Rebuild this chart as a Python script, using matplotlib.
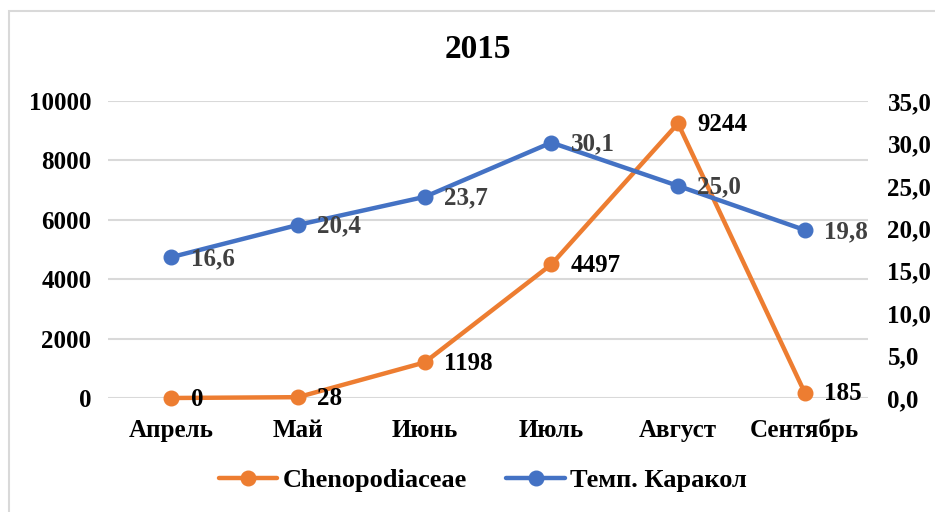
import matplotlib
matplotlib.use("Agg")
import matplotlib.pyplot as plt
from matplotlib.patches import Rectangle

months = ["Апрель", "Май", "Июнь", "Июль", "Август", "Сентябрь"]
cheno = [0, 28, 1198, 4497, 9244, 185]
temp = [16.6, 20.4, 23.7, 30.1, 25.0, 19.8]
left_ticks = [0, 2000, 4000, 6000, 8000, 10000]
right_ticks = [0, 5, 10, 15, 20, 25, 30, 35]

ORANGE = "#ED7D31"
BLUE = "#4472C4"
GRID = "#D9D9D9"
FONT = "Liberation Serif"

plt.rcParams["font.family"] = [FONT, "DejaVu Serif"]
plt.rcParams["font.weight"] = "bold"

W, H = 935, 512
fig = plt.figure(figsize=(W / 100, H / 100), dpi=100)
fig.patch.set_facecolor("white")

# chart border (top-left visible)
fig.patches.append(Rectangle((9 / W, -0.1), 1.2, 1 - 11 / H + 0.1, transform=fig.transFigure,
                             fill=False, edgecolor="#D9D9D9", linewidth=1.5))

ax = fig.add_axes([108 / W, 1 - 398 / H, (868 - 108) / W, (398 - 101) / H])
ax2 = ax.twinx()

x = list(range(len(months)))
ax.set_xlim(-0.5, len(months) - 0.5)
ax.set_ylim(0, 10000)
ax2.set_ylim(0, 35)

ax.set_yticks(left_ticks)
ax.set_yticklabels([str(v) for v in left_ticks])
ax2.set_yticks(right_ticks)
ax2.set_yticklabels([f"{v:.1f}".replace(".", ",") for v in right_ticks])
ax.set_xticks(x)
ax.set_xticklabels(months)

for a in (ax, ax2):
    for s in a.spines.values():
        s.set_visible(False)
    a.tick_params(length=0, labelsize=18)

ax.tick_params(axis="y", pad=12)
ax2.tick_params(axis="y", pad=14)
ax.tick_params(axis="x", pad=15)
for lbl in ax.get_xticklabels() + ax.get_yticklabels() + ax2.get_yticklabels():
    lbl.set_fontweight("bold")

ax.yaxis.grid(True, color=GRID, linewidth=1.5)
ax.set_axisbelow(True)

l1, = ax.plot(x, cheno, color=ORANGE, linewidth=3.2, marker="o", markersize=10.5,
              label="Chenopodiaceae", zorder=3, solid_capstyle="round", clip_on=False)
l2, = ax2.plot(x, temp, color=BLUE, linewidth=3.2, marker="o", markersize=10.5,
               label="Темп. Каракол", zorder=3, solid_capstyle="round", clip_on=False)

for xi, v in zip(x, cheno):
    ax.annotate(str(v), (xi, v), xytext=(14, -1), textcoords="offset points",
                ha="left", va="center", fontsize=18, fontweight="bold", color="black",
                annotation_clip=False)
for xi, v in zip(x, temp):
    ax2.annotate(f"{v:.1f}".replace(".", ","), (xi, v), xytext=(14, -1),
                 textcoords="offset points", ha="left", va="center",
                 fontsize=18, fontweight="bold", color="#404040", annotation_clip=False)

fig.text(478 / W, 1 - 49 / H, "2015", ha="center", va="center",
         fontsize=24, fontweight="bold")

fig.legend(handles=[l1, l2], loc="center", bbox_to_anchor=(483 / W, 1 - 480 / H),
           ncol=2, frameon=False, prop={"family": FONT, "weight": "bold", "size": 19},
           handlelength=2.2, columnspacing=1.5, handletextpad=0.2)

fig.savefig("out.png", dpi=100, facecolor="white")
